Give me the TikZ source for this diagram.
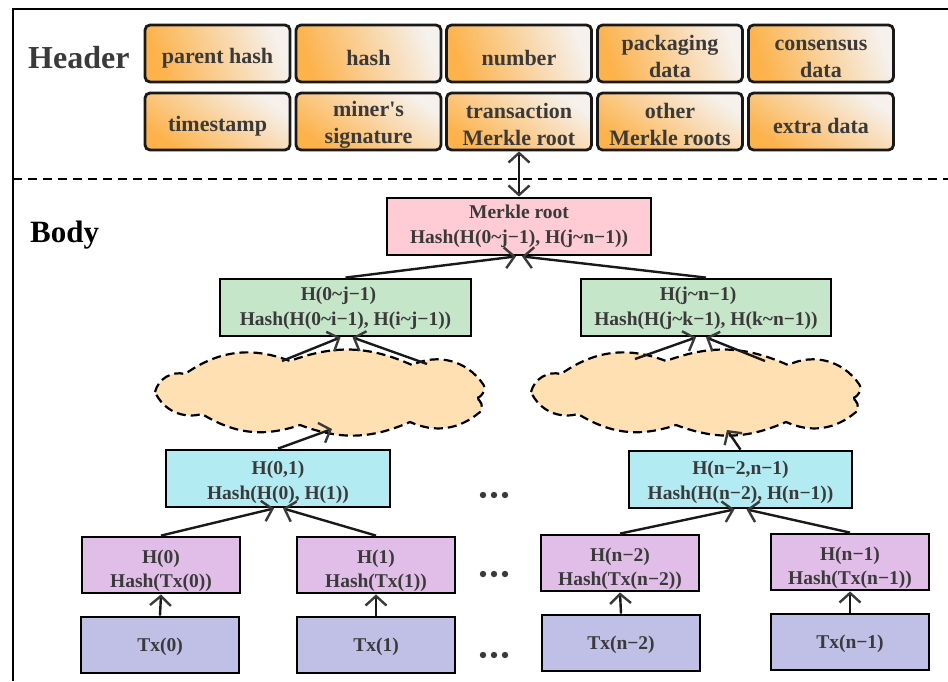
\documentclass[tikz,border=0pt]{standalone}
\usepackage{fontspec}
\setmainfont{Liberation Serif}
\usetikzlibrary{arrows.meta,calc}

\definecolor{ink}{HTML}{3A3A3A}
\definecolor{hdrorange}{HTML}{FDB24A}
\definecolor{hdrlight}{HTML}{F6F1EC}
\definecolor{rootpink}{HTML}{FFCCD5}
\definecolor{midgreen}{HTML}{C6E6CA}
\definecolor{cloudfill}{HTML}{FFE0B2}
\definecolor{paircyan}{HTML}{B2EBF2}
\definecolor{leafpurple}{HTML}{E1BEE7}
\definecolor{txblue}{HTML}{C0BFE6}

\newcommand{\tl}{\textasciitilde}
% invisible strut that lowers the text of a box a little
\newcommand{\lift}[1]{\rule{0pt}{#1}}
% outline of a flat cloud, centred on the origin
\newcommand{\fogoutline}{%
  (-165,0) to[bend left=45] (-135,-18) to[bend left=28] (-30,-31)
  to[bend left=22] (92,-27) to[bend left=40] (163,-8)
  to[bend left=70] (155,6) to[bend left=70] (160,20)
  to[bend left=32] (90,30) to[bend left=22] (-20,33)
  to[bend left=25] (-118,22) to[bend left=40] cycle}

\begin{document}
\begin{tikzpicture}[x=1pt,y=-1pt,
  hdr/.style={draw=black!90, line width=2.8pt, rounded corners=5pt,
    minimum width=145pt, minimum height=57pt, align=center, inner sep=0pt,
    font=\fontsize{22}{27}\selectfont\bfseries, text=ink},
  hdrtop/.style={hdr, top color=hdrlight, bottom color=hdrorange, shading angle=-70},
  hdrbot/.style={hdr, top color=hdrlight, bottom color=hdrorange, shading angle=-35},
  bbox/.style={draw=black, line width=2.8pt, minimum height=57pt, align=center,
    inner sep=0pt, font=\fontsize{19.5}{24.5}\selectfont\bfseries, text=ink},
  rootbox/.style={bbox, fill=rootpink, minimum width=264pt},
  midbox/.style={bbox, fill=midgreen, minimum width=251pt},
  pairbox/.style={bbox, fill=paircyan, minimum width=224pt},
  leafbox/.style={bbox, fill=leafpurple, minimum width=158pt, minimum height=56pt},
  txbox/.style={bbox, fill=txblue, minimum width=158pt, minimum height=56pt},
  fogline/.style={fill=cloudfill, draw=black, line width=2.2pt, dash pattern=on 9pt off 5pt},
  fogspot/.style={minimum width=330pt, minimum height=66pt, inner sep=0pt},
  tip/.tip={Straight Barb[length=9.5pt,width=21pt,color=ink]},
  conn/.style={line width=2.4pt, draw=black!90, -tip},
  both/.style={line width=2.4pt, draw=black!90, tip-tip},
  title/.style={anchor=base west, inner sep=0pt}
]
\useasboundingbox (0,0) rectangle (948,681);

% outer frame and header/body divider
\draw[line width=2.5pt] (13,681) -- (13,9) -- (948,9);
\draw[line width=2.2pt, dash pattern=on 9pt off 6pt] (13,179) -- (948,179);

% section titles
\node[title, text=ink, font=\fontsize{32}{36}\selectfont\bfseries] (hdrlabel) at (28,68) {Header};
\node[title, text=black, font=\fontsize{31}{36}\selectfont\bfseries] (bodylabel) at (30,242) {Body};

% header fields
\node[hdrtop] (parent)  at (217.5,53.5) {\lift{25pt}parent hash};
\node[hdrtop] (hash)    at (368.5,53.5) {\lift{25pt}hash};
\node[hdrtop] (number)  at (519,53.5)   {\lift{25pt}number};
\node[hdrtop] (packing) at (670,53.5)   {\lift{21pt}packaging\\data};
\node[hdrtop] (consens) at (821,53.5)   {\lift{21pt}consensus\\data};
\node[hdrbot] (stamp)   at (217.5,121.5) {\lift{25pt}timestamp};
\node[hdrbot] (miner)   at (368.5,121.5) {\lift{21pt}miner\textquotesingle s\\signature};
\node[hdrbot] (txroot)  at (519,121.5)   {\lift{21pt}transaction\\Merkle root};
\node[hdrbot] (others)  at (670,121.5)   {\lift{21pt}other\\Merkle roots};
\node[hdrbot] (extra)   at (821,121.5)   {\lift{25pt}extra data};

% Merkle tree
\node[rootbox] (mroot) at (519,226.5) {Merkle root\\Hash(H(0\tl j−1), H(j\tl n−1))};
\node[midbox] (hl) at (345.5,307.5) {\lift{15.5pt}H(0\tl j−1)\hspace*{14pt}\\Hash(H(0\tl i−1), H(i\tl j−1))};
\node[midbox, minimum width=250pt] (hr) at (706,307.5) {\lift{15.5pt}H(j\tl n−1)\hspace*{16pt}\\Hash(H(j\tl k−1), H(k\tl n−1))};

% the elided middle levels of the tree
\draw[fogline, shift={(320,392)}] \fogoutline;
\draw[fogline, shift={(696,392)}] \fogoutline;
\node[fogspot] (cl) at (320,392) {};
\node[fogspot] (cr) at (696,392) {};

\node[pairbox] (h01) at (278,478.5) {\lift{21pt}H(0,1)\\Hash(H(0), H(1))};
\node[pairbox, minimum width=223pt] (hn) at (740.5,479.5) {\lift{19.5pt}H(n−2,n−1)\\Hash(H(n−2), H(n−1))};

\node[leafbox] (h0)  at (161,565) {\lift{25pt}H(0)\\Hash(Tx(0))};
\node[leafbox] (h1)  at (376,565) {\lift{25pt}H(1)\\Hash(Tx(1))};
\node[leafbox] (hn2) at (620,563) {\lift{25pt}H(n−2)\\Hash(Tx(n−2))};
\node[leafbox] (hn1) at (850,562) {\lift{25pt}H(n−1)\\Hash(Tx(n−1))};

\node[txbox] (t0)  at (160,645) {\lift{18pt}Tx(0)};
\node[txbox] (t1)  at (376,645) {\lift{18pt}Tx(1)};
\node[txbox] (tn2) at (621,643) {\lift{18pt}Tx(n−2)};
\node[txbox] (tn1) at (850,642) {\lift{18pt}Tx(n−1)};

% ellipsis marks between the two halves
\foreach \yy in {495,574,655}
  \foreach \xx in {483,494,505}
    \fill[ink] (\xx,\yy) circle (3.2pt);

% connectors
\draw[both] (txroot.south) -- (mroot.north);
\draw[conn] (hl.north) -- ($(mroot.south)+(-3,0)$);
\draw[conn] (hr.north) -- ($(mroot.south)+(3,0)$);
\draw[conn] ($(cl)+(-38,-31)$) -- ($(hl.south)+(-5,0)$);
\draw[conn] ($(cl)+(107,-28)$) -- ($(hl.south)+(7,0)$);
\draw[conn] ($(cr)+(-61,-33)$) -- ($(hr.south)+(-10,0)$);
\draw[conn] ($(cr)+(69,-31)$) -- ($(hr.south)+(0,0)$);
\draw[conn] (h01.north) -- ($(cl)+(12,37)$);
\draw[conn] (hn.north) -- ($(cr)+(31,38)$);
\draw[conn] (h0.north) -- ($(h01.south)+(-4,0)$);
\draw[conn] (h1.north) -- ($(h01.south)+(5,0)$);
\draw[conn] (hn2.north) -- ($(hn.south)+(-6,0)$);
\draw[conn] (hn1.north) -- ($(hn.south)+(6,0)$);
\draw[conn] (t0.north) -- (h0.south);
\draw[conn] (t1.north) -- (h1.south);
\draw[conn] (tn2.north) -- (hn2.south);
\draw[conn] (tn1.north) -- (hn1.south);
\end{tikzpicture}
\end{document}
